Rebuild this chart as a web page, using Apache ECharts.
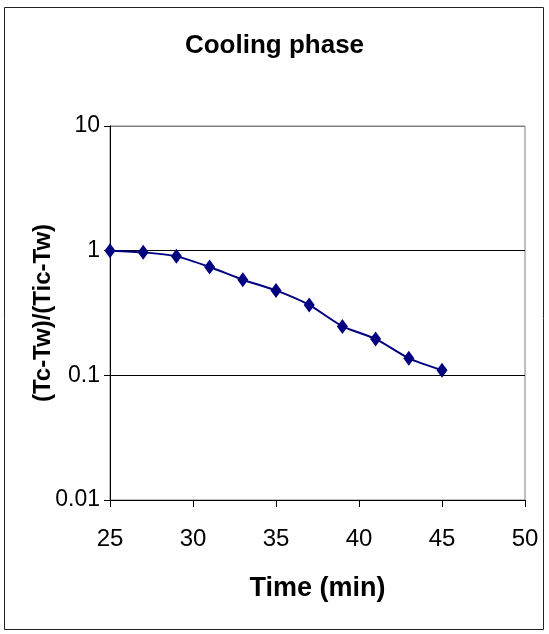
<!DOCTYPE html>
<html>
<head>
<meta charset="utf-8">
<script src="https://cdn.jsdelivr.net/npm/echarts@6/dist/echarts.min.js"></script>
<style>
html,body{margin:0;padding:0;background:#fff;}
#chart{width:549px;height:634px;}
</style>
</head>
<body>
<div id="chart"></div>
<script>
const timeMin = [25, 27, 29, 31, 33, 35, 37, 39, 41, 43, 45];
const ratio = [1.0, 0.969, 0.90, 0.74, 0.585, 0.48, 0.367, 0.247, 0.196, 0.137, 0.11];
const titleText = 'Cooling phase';
const xTitle = 'Time (min)';
const yTitle = '(Tc-Tw)/(Tic-Tw)';

const FONT = '"Liberation Sans", Arial, sans-serif';
const chart = echarts.init(document.getElementById('chart'), null, {renderer: 'canvas'});
const data = timeMin.map((t, i) => [t, ratio[i]]);

chart.setOption({
  backgroundColor: '#fff',
  animation: false,
  title: {
    text: titleText,
    left: 'center',
    top: 28,
    textStyle: {fontFamily: FONT, fontSize: 26, fontWeight: 'bold', color: '#000'}
  },
  graphic: [{
    type: 'rect',
    shape: {x: 4.5, y: 7.5, width: 539, height: 622},
    style: {fill: null, stroke: '#222', lineWidth: 1},
    silent: true, z: -1
  }],
  grid: {left: 110, right: 24, top: 126, bottom: 134, show: true, borderColor: '#808080', borderWidth: 1, backgroundColor: 'transparent'},
  xAxis: {
    type: 'value', min: 25, max: 50, interval: 5,
    name: xTitle, nameLocation: 'middle', nameGap: 75, nameMoveOverlap: false,
    nameTextStyle: {fontFamily: FONT, fontSize: 27, fontWeight: 'bold', color: '#000'},
    axisLine: {show: true, onZero: false, lineStyle: {color: '#000', width: 1}},
    axisTick: {show: true, inside: false, length: 7, lineStyle: {color: '#000'}},
    axisLabel: {fontFamily: FONT, fontSize: 24, color: '#000', margin: 27},
    splitLine: {show: false}
  },
  yAxis: {
    type: 'log', logBase: 10, min: 0.01, max: 10,
    name: yTitle, nameLocation: 'middle', nameGap: 55, nameRotate: 90, nameMoveOverlap: false,
    nameTextStyle: {fontFamily: FONT, fontSize: 24, fontWeight: 'bold', color: '#000'},
    axisLine: {show: true, lineStyle: {color: '#000', width: 1}},
    axisTick: {show: true, inside: false, length: 6, lineStyle: {color: '#000'}},
    axisLabel: {fontFamily: FONT, fontSize: 23, color: '#000', margin: 10,
      formatter: v => String(+v.toPrecision(6))},
    splitLine: {show: true, lineStyle: {color: ['#000', '#000', '#000', '#808080'], width: 1}}
  },
  series: [{
    type: 'line',
    data: data,
    smooth: 0.2,
    symbol: 'diamond',
    symbolSize: [11, 15],
    itemStyle: {color: '#000080'},
    lineStyle: {color: '#000080', width: 2},
    clip: false
  }]
});
</script>
</body>
</html>
